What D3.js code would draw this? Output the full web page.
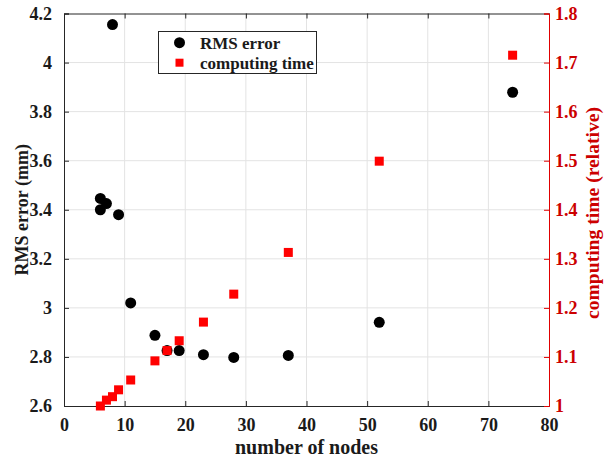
<!DOCTYPE html>
<html><head><meta charset="utf-8">
<script src="https://cdn.jsdelivr.net/npm/d3@7"></script>
<style>body{margin:0;background:#fff}svg{display:block}</style>
</head><body>
<script>
const nodes = [6, 6, 7, 8, 9, 11, 15, 17, 19, 23, 28, 37, 52, 74];
const rmsError = [3.446, 3.400, 3.425, 4.155, 3.380, 3.020, 2.888, 2.826, 2.826, 2.809, 2.798, 2.806, 2.941, 3.879];
const timeNodes = [6, 7, 8, 9, 11, 15, 17, 19, 23, 28, 37, 52, 74];
const computingTime = [1.000, 1.012, 1.019, 1.033, 1.053, 1.092, 1.113, 1.133, 1.171, 1.228, 1.313, 1.499, 1.715];
const xTicks = [0, 10, 20, 30, 40, 50, 60, 70, 80];
const yLeftTicks = [2.6, 2.8, 3.0, 3.2, 3.4, 3.6, 3.8, 4.0, 4.2];
const yRightTicks = [1, 1.1, 1.2, 1.3, 1.4, 1.5, 1.6, 1.7, 1.8];
const legendLabels = ["RMS error", "computing time"];

const W = 604, H = 460;
const m = {l: 64, r: 55, t: 13.5, b: 54};
const font = "'Liberation Serif','Times New Roman',serif";
const svg = d3.select("body").append("svg").attr("width", W).attr("height", H)
  .style("font-family", font).style("font-weight", "bold");

const x = d3.scaleLinear().domain([0, 80]).range([m.l, W - m.r]);
const yL = d3.scaleLinear().domain([2.6, 4.2]).range([H - m.b, m.t]);
const yR = d3.scaleLinear().domain([1, 1.8]).range([H - m.b, m.t]);
const x0 = x.range()[0], x1 = x.range()[1], y0 = yL.range()[0], y1 = yL.range()[1];

// grid
const g = svg.append("g").attr("stroke", "#e3e3e3").attr("stroke-width", 1);
xTicks.slice(1, -1).forEach(t => g.append("line").attr("x1", x(t)).attr("x2", x(t)).attr("y1", y0).attr("y2", y1));
yLeftTicks.slice(1, -1).forEach(t => g.append("line").attr("x1", x0).attr("x2", x1).attr("y1", yL(t)).attr("y2", yL(t)));

// axes
const fmtL = d => (d === 3 || d === 4) ? String(d) : d3.format(".1f")(d);
const ax = svg.append("g").attr("transform", `translate(0,${y0})`)
  .call(d3.axisBottom(x).tickValues(xTicks).tickSize(-5).tickPadding(12).tickFormat(d3.format("d")));
const axT = svg.append("g").attr("transform", `translate(0,${y1})`)
  .call(d3.axisTop(x).tickValues(xTicks).tickSize(-5).tickFormat(""));
const ayL = svg.append("g").attr("transform", `translate(${x0},0)`)
  .call(d3.axisLeft(yL).tickValues(yLeftTicks).tickSize(-5).tickPadding(12).tickFormat(fmtL));
const ayR = svg.append("g").attr("transform", `translate(${x1},0)`)
  .call(d3.axisRight(yR).tickValues(yRightTicks).tickSize(-5).tickPadding(6).tickFormat(d => d === 1 ? "1" : d3.format(".1f")(d)));

[ax, axT, ayL].forEach(a => {
  a.select(".domain").attr("stroke", "#262626");
  a.selectAll(".tick line").attr("stroke", "#262626");
  a.selectAll("text").attr("fill", "#1a1a1a").style("font-family", font).style("font-weight", "bold").style("font-size", "18px");
});
ayR.select(".domain").attr("stroke", "#e00000");
ayR.selectAll(".tick line").attr("stroke", "#e00000");
ayR.selectAll("text").attr("fill", "#cc0000").style("font-family", font).style("font-weight", "bold").style("font-size", "18px");
ax.selectAll(".tick text").attr("dy", "0.71em");

// data
svg.append("g").selectAll("circle").data(nodes).join("circle")
  .attr("cx", d => x(d)).attr("cy", (d, i) => yL(rmsError[i])).attr("r", 5.5).attr("fill", "#000");
const s = 9;
svg.append("g").selectAll("rect").data(timeNodes).join("rect")
  .attr("x", d => x(d) - s / 2).attr("y", (d, i) => yR(computingTime[i]) - s / 2)
  .attr("width", s).attr("height", s).attr("fill", "#ff0000");

// labels
svg.append("text").attr("x", (x0 + x1) / 2).attr("y", 454).attr("text-anchor", "middle")
  .style("font-size", "20px").attr("fill", "#1a1a1a").text("number of nodes");
svg.append("text").attr("transform", `translate(28,${(y0 + y1) / 2}) rotate(-90)`).attr("text-anchor", "middle")
  .style("font-size", "18px").attr("fill", "#1a1a1a").text("RMS error (mm)");
svg.append("text").attr("transform", `translate(599,213) rotate(-90)`).attr("text-anchor", "middle")
  .attr("textLength", 212).attr("lengthAdjust", "spacingAndGlyphs")
  .style("font-size", "18px").attr("fill", "#cc0000").text("computing time (relative)");

// legend
const lg = svg.append("g");
lg.append("rect").attr("x", 158.5).attr("y", 31.5).attr("width", 158).attr("height", 42)
  .attr("fill", "#fff").attr("stroke", "#262626").attr("stroke-width", 1);
lg.append("circle").attr("cx", 179.5).attr("cy", 42.7).attr("r", 5.5).attr("fill", "#000");
lg.append("rect").attr("x", 179.5 - 4).attr("y", 62.7 - 4).attr("width", 8).attr("height", 8).attr("fill", "#ff0000");
legendLabels.forEach((t, i) => lg.append("text").attr("x", 200).attr("y", 42.7 + i * 20).attr("dy", "0.35em")
  .style("font-size", "17px").attr("fill", "#1a1a1a").text(t));
</script>
</body></html>
